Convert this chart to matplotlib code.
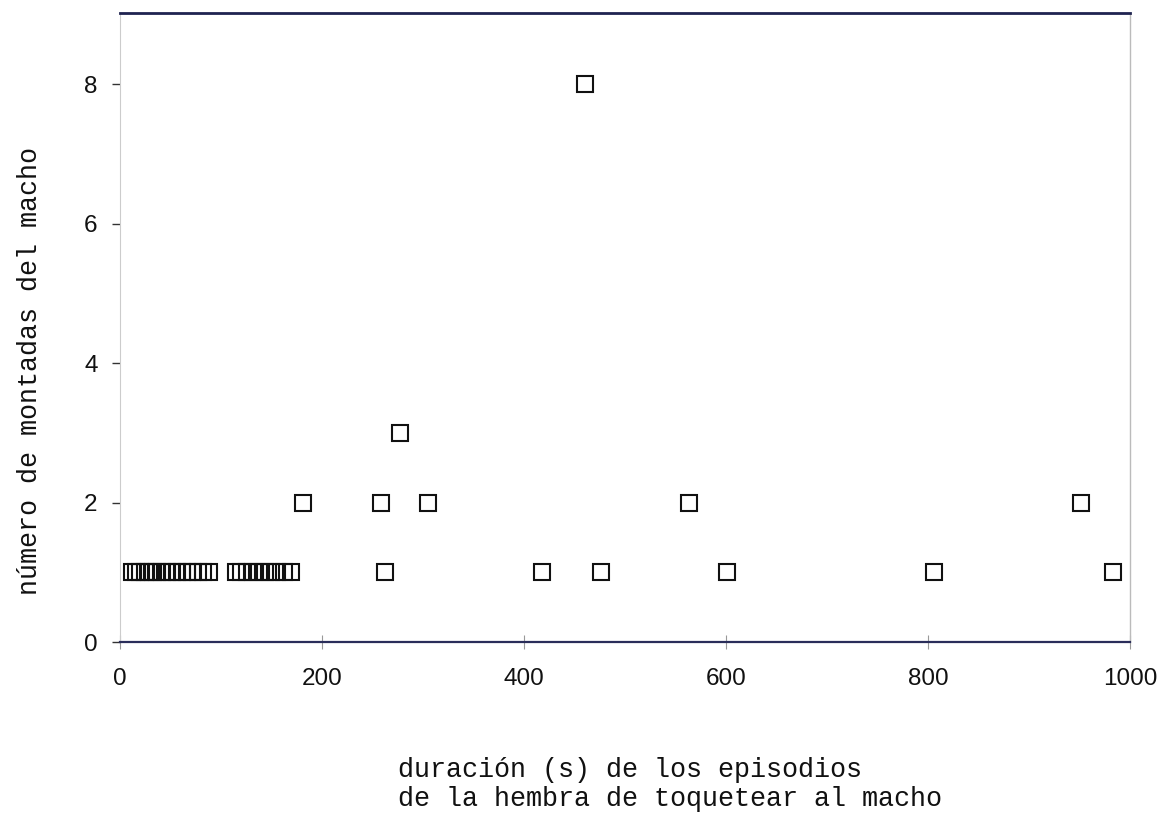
import matplotlib
matplotlib.use("Agg")
import matplotlib.pyplot as plt

# duration (s) of episodes and number of male mounts
dur_y1 = [12, 16, 20, 25, 29, 33, 37, 42, 47, 52, 57, 62, 67, 72, 77, 82, 88,
          115, 120, 126, 132, 138, 144, 150, 156, 163, 170,
          263, 418, 476, 601, 806, 983]
dur_y2 = [181, 259, 305, 563, 952]
dur_y3 = [277]
dur_y8 = [461]

x = dur_y1 + dur_y2 + dur_y3 + dur_y8
y = [1] * len(dur_y1) + [2] * len(dur_y2) + [3] * len(dur_y3) + [8] * len(dur_y8)

xticks = [0, 200, 400, 600, 800, 1000]
yticks = [0, 2, 4, 6, 8]

fig = plt.figure(figsize=(11.74, 8.13), dpi=100)
ax = fig.add_axes([0.102, 0.2103, 0.8605, 0.7737])

ax.plot(x, y, linestyle='none', marker='s', markersize=11,
        markerfacecolor='none', markeredgecolor='#111111', markeredgewidth=1.5)

ax.set_xlim(0, 1000)
ax.set_ylim(0, 9.02)
ax.set_xticks(xticks)
ax.set_yticks(yticks)

for lab in ax.get_xticklabels() + ax.get_yticklabels():
    lab.set_family('Liberation Sans')
    lab.set_fontsize(17.5)
    lab.set_color('#111111')
ax.tick_params(axis='y', direction='out', length=6, width=1, color='#333333', pad=10)
ax.tick_params(axis='x', direction='inout', length=10, width=0.8, color='#999999', pad=14)

ax.spines['top'].set_color('#1f2350')
ax.spines['top'].set_linewidth(2)
ax.spines['bottom'].set_color('#2a2d5a')
ax.spines['bottom'].set_linewidth(1.6)
ax.spines['left'].set_color('#cccccc')
ax.spines['left'].set_linewidth(0.8)
ax.spines['right'].set_color('#bbbbbb')
ax.spines['right'].set_linewidth(1)

fig.text(0.0256, 0.544, 'número de montadas del macho', rotation=90,
         ha='center', va='center', family='Liberation Mono', fontsize=19.3,
         color='#111111')
fig.text(0.339, 0.069, 'duración (s) de los episodios\nde la hembra de toquetear al macho',
         ha='left', va='top', family='Liberation Mono', fontsize=19.3, linespacing=1.15,
         color='#111111')

fig.savefig('out.png', dpi=100)
